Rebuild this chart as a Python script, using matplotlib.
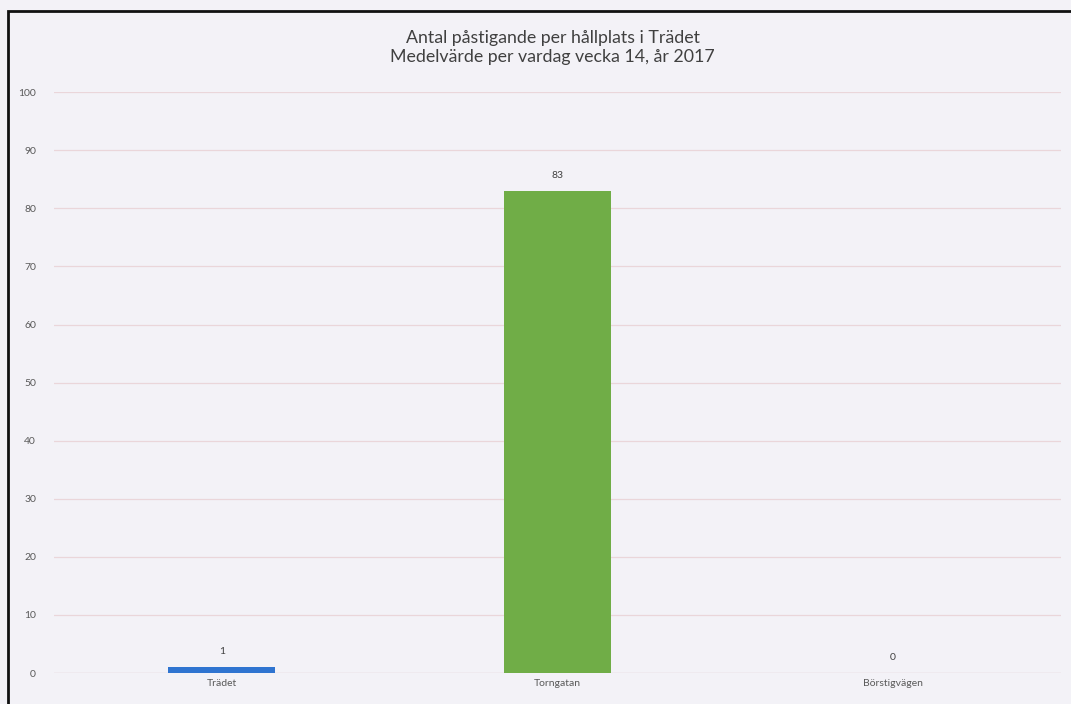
import matplotlib.pyplot as plt
from matplotlib.patches import Rectangle

plt.rcParams['font.family'] = ['Lato', 'DejaVu Sans']

# data
stops = ['Trädet', 'Torngatan', 'Börstigvägen']
boardings = [1, 83, 0]
colors = ['#2f74d0', '#70ad47', '#a5a5a5']
yticks = list(range(0, 101, 10))

fig = plt.figure(figsize=(10.71, 7.04), dpi=100)
fig.patch.set_facecolor('#f3f2f7')
ax = fig.add_axes([0.0504, 0.044, 0.940, 0.825])
ax.set_facecolor('#f3f2f7')

x = range(len(stops))
bars = ax.bar(x, boardings, width=0.32, color=colors, zorder=3)
for b, v in zip(bars, boardings):
    ax.annotate(str(v), (b.get_x() + b.get_width() / 2, v), xytext=(0, 8),
                textcoords='offset points', ha='center', va='bottom',
                fontsize=7.5, color='#404040')

ax.set_xlim(-0.5, len(stops) - 0.5)
ax.set_ylim(0, 100)
ax.set_yticks(yticks)
ax.set_xticks(list(x))
ax.set_xticklabels(stops)
ax.tick_params(axis='both', length=0, labelsize=7.5, labelcolor='#595959')
ax.tick_params(axis='y', pad=13)
ax.tick_params(axis='x', pad=4)
ax.grid(axis='y', color='#ead6da', linewidth=0.9, zorder=0)
ax.set_axisbelow(True)
for s in ax.spines.values():
    s.set_visible(False)
ax.axhline(0, color='#e6d4d8', linewidth=0.9, zorder=1)

fig.text(0.516, 0.932, 'Antal påstigande per hållplats i Trädet\nMedelvärde per vardag vecka 14, år 2017',
         ha='center', va='center', fontsize=12.8, color='#404040', linespacing=1.22)

# frame around the chart (right and bottom edges fall outside the picture)
fig.patches.append(Rectangle((0.0075, -0.05), 1.05, 1.034, transform=fig.transFigure,
                             fill=False, edgecolor='#111111', linewidth=2))

fig.savefig('out.png', dpi=100, facecolor=fig.get_facecolor())
